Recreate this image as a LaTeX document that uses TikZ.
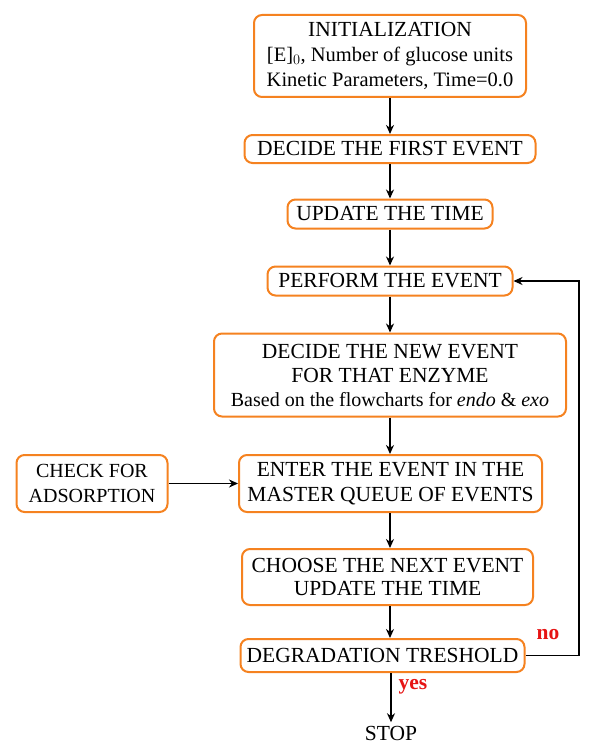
\documentclass[tikz,border=0pt]{standalone}
\usepackage{fontspec}
\setmainfont{Liberation Serif}
\usetikzlibrary{arrows.meta}
\definecolor{boxorange}{RGB}{245,130,32}
\definecolor{lblred}{RGB}{230,20,20}
\newcommand{\bigsz}{\fontsize{21.5}{24.5}\selectfont}
\newcommand{\mixsz}{\fontsize{20.5}{25}\selectfont}
\begin{document}
\begin{tikzpicture}[x=1pt,y=-1pt,
  flowbox/.style={draw=boxorange,line width=2pt,rounded corners=8pt,fill=white,align=center,
    font=\bigsz,inner sep=0pt},
  conn/.style={draw=black,line width=1.8pt,-{Stealth[length=9pt,width=8pt]}},
  lbl/.style={text=lblred,font=\fontsize{21.5}{22}\selectfont\bfseries}]
\useasboundingbox (0,0) rectangle (600,749);
\node[flowbox,font=\mixsz,minimum width=272pt,minimum height=82pt] (init) at (390,56)
  {{\fontsize{21.5}{25}\selectfont INITIALIZATION}\\{[E]$_0$}, Number of glucose units\\Kinetic Parameters, Time=0.0};
\node[flowbox,minimum width=291pt,minimum height=28pt] (first) at (390,149) {DECIDE THE FIRST EVENT};
\node[flowbox,minimum width=205pt,minimum height=29pt] (upd) at (390,214) {UPDATE THE TIME};
\node[flowbox,minimum width=245pt,minimum height=29pt] (perf) at (390,281) {PERFORM THE EVENT};
\node[flowbox,font=\fontsize{21.5}{24}\selectfont,minimum width=352pt,minimum height=83pt] (newev) at (390,375)
  {DECIDE THE NEW EVENT\\FOR THAT ENZYME\\{\fontsize{20}{24}\selectfont Based on the flowcharts for \textit{endo} \& \textit{exo}}};
\node[flowbox,font=\fontsize{21.5}{25}\selectfont,minimum width=303pt,minimum height=57pt] (enter) at (390.5,483.5)
  {ENTER THE EVENT IN THE\\MASTER QUEUE OF EVENTS};
\node[flowbox,font=\fontsize{20}{25}\selectfont,minimum width=151pt,minimum height=57pt] (check) at (92,483.5)
  {CHECK FOR\\ADSORPTION};
\node[flowbox,font=\fontsize{21.5}{23.5}\selectfont,minimum width=291pt,minimum height=56pt] (choose) at (387.5,577)
  {CHOOSE THE NEXT EVENT\\UPDATE THE TIME};
\node[flowbox,minimum width=284pt,minimum height=33pt] (degr) at (382.5,655.5) {DEGRADATION TRESHOLD};
\node[font=\bigsz] (stop) at (391,733) {STOP};
\coordinate (loopA) at (579,655.5);
\coordinate (loopB) at (579,281);
\draw[conn] (init.south -| first.north) -- (first.north);
\draw[conn] (first) -- (upd);
\draw[conn] (upd) -- (perf);
\draw[conn] (perf) -- (newev);
\draw[conn] (newev.south -| perf.south) -- (enter.north -| perf.south);
\draw[conn] (enter.south -| perf.south) -- (choose.north -| perf.south);
\draw[conn] (choose.south -| perf.south) -- (degr.north -| perf.south);
\draw[conn] (check) -- (enter);
\draw[conn] (degr.south -| stop.north) -- (stop.north);
\draw[conn] (degr.east) -- (loopA) -- (loopB) -- (perf.east);
\node[lbl] at (548,635) {no};
\node[lbl] at (413,687) {yes};
\end{tikzpicture}
\end{document}
